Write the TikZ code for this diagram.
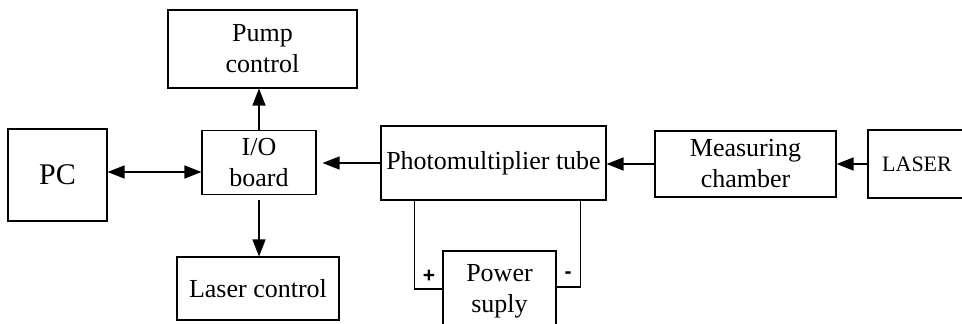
\documentclass[tikz,border=0pt]{standalone}
\usepackage{fontspec}
\setmainfont{Liberation Serif}
\setsansfont{Liberation Sans}
\usetikzlibrary{arrows.meta}

\begin{document}
\begin{tikzpicture}[x=0.5pt, y=-0.5pt, >={Triangle[length=8.5pt, width=6.5pt]},
  box/.style={draw, line width=0.55pt, align=center, inner sep=0pt,
              font=\fontsize{13}{15.5}\selectfont},
  wire/.style={line width=0.7pt},
  pole/.style={font=\sffamily\bfseries\fontsize{10.5}{10.5}\selectfont}]
  \useasboundingbox (0,0) rectangle (962,323);
  \clip (0,0) rectangle (962,323);

  % control side
  \node[box, minimum width=49.5pt, minimum height=46pt,
        font=\fontsize{15}{18}\selectfont] (pc) at (57.5,175) {PC};
  \node[box, minimum width=57pt, minimum height=32pt] (io) at (259,162.5) {I/O\\board};
  \node[box, minimum width=94.5pt, minimum height=39pt] (pump) at (262.5,49) {Pump\\control};
  \node[box, minimum width=81pt, minimum height=31.5pt] (lasctl) at (258,288.5) {Laser control};

  % measuring side
  \node[box, minimum width=112.5pt, minimum height=37pt] (pmt) at (493.5,163) {Photomultiplier tube};
  \node[box, minimum width=56.5pt, minimum height=40pt] (psu) at (499.5,291) {Power\\suply};
  \node[box, minimum width=90.5pt, minimum height=33pt] (chamber) at (745.5,164) {Measuring\\chamber};
  \node[box, minimum width=49pt, minimum height=34pt,
        font=\fontsize{11}{13}\selectfont] (laser) at (917,164) {LASER};

  % signal flow
  \draw[wire, <->] ([yshift=1.5pt]pc.east) -- ([yshift=1.5pt]pc.east -| io.west);
  \draw[wire, ->] (io.north) -- (io.north |- pump.south);
  \draw[wire, ->] ([yshift=-2.5pt]io.south) -- (io.south |- lasctl.north);
  \draw[wire, ->] (pmt.west) -- ([xshift=3pt]pmt.west -| io.east);
  \draw[wire, ->] (chamber.west) -- (chamber.west -| pmt.east);
  \draw[wire, ->] (laser.west) -- (laser.west -| chamber.east);

  % supply leads
  \draw[wire] ([xshift=17pt]pmt.south west) |- ([yshift=1pt]psu.west);
  \draw[wire] ([xshift=-13pt]pmt.south east) |- ([yshift=2pt]psu.east);
  \node[pole] (plus) at (429,276) {+};
  \node[pole] (minus) at (568,275) {-};
\end{tikzpicture}
\end{document}
